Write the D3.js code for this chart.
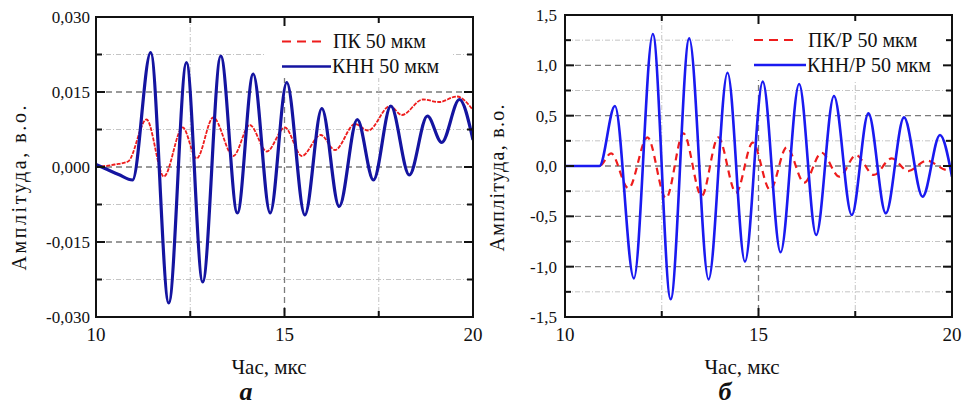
<!DOCTYPE html>
<html>
<head>
<meta charset="utf-8">
<script src="https://cdn.jsdelivr.net/npm/d3@7"></script>
<style>
  body { margin: 0; background: #fff; }
  svg text { font-family: 'Liberation Serif' !important; }
</style>
</head>
<body>
<svg id="chart" width="963" height="405"></svg>
<script>
// ---- data (time in мкс, amplitude in в.о.) ----
const timeTicks = [10, 15, 20];

const ampTicksA = [-0.030, -0.015, 0.000, 0.015, 0.030];
const ampTicksB = [-1.5, -1.0, -0.5, 0.0, 0.5, 1.0, 1.5];

// panel a
const pkA = [
  [10.0, 0.0], [10.5, 0.0005], [10.85, 0.0011], [11.34, 0.0095], [11.80, -0.0019],
  [12.30, 0.0079], [12.67, 0.0017], [13.11, 0.0099], [13.64, 0.0022], [14.08, 0.0084],
  [14.53, 0.0031], [15.01, 0.0079], [15.46, 0.0022], [15.96, 0.0064], [16.34, 0.0034],
  [16.87, 0.0086], [17.22, 0.0073], [17.80, 0.0122], [18.11, 0.0104], [18.67, 0.0135],
  [19.10, 0.0130], [19.57, 0.0141], [20.0, 0.0114]
];
const knnA = [
  [10.0, 0.0005], [10.3, -0.0005], [10.6, -0.0015], [10.97, -0.0026], [11.45, 0.0229],
  [11.93, -0.0272], [12.40, 0.0209], [12.83, -0.0230], [13.31, 0.0222], [13.75, -0.0092],
  [14.17, 0.0186], [14.62, -0.0092], [15.06, 0.0169], [15.54, -0.0096], [15.99, 0.0117],
  [16.45, -0.0079], [16.93, 0.0095], [17.36, -0.0026], [17.82, 0.0122], [18.31, -0.0016],
  [18.79, 0.0102], [19.17, 0.0049], [19.64, 0.0135], [20.0, 0.0054]
];

// panel б
const pkB = [
  [10.0, 0], [10.89, 0], [11.19, 0.126], [11.64, -0.222], [12.13, 0.285], [12.61, -0.321],
  [13.06, 0.325], [13.53, -0.298], [13.96, 0.285], [14.42, -0.265], [14.85, 0.232],
  [15.30, -0.238], [15.73, 0.186], [16.18, -0.166], [16.63, 0.132], [17.09, -0.106],
  [17.52, 0.109], [17.98, -0.089], [18.44, 0.076], [18.87, -0.050], [19.35, 0.053],
  [19.85, -0.040], [20.0, -0.045]
];
const knnB = [
  [10.0, 0], [10.89, 0], [11.29, 0.596], [11.78, -1.116], [12.27, 1.311], [12.73, -1.324],
  [13.21, 1.268], [13.71, -1.126], [14.20, 0.927], [14.65, -0.950], [15.11, 0.838],
  [15.57, -0.857], [16.05, 0.815], [16.49, -0.685], [16.95, 0.695], [17.41, -0.487],
  [17.84, 0.523], [18.29, -0.470], [18.76, 0.483], [19.24, -0.305], [19.69, 0.308],
  [20.0, -0.106]
];

const legendA = ["ПК 50 мкм", "КНН 50 мкм"];
const legendB = ["ПК/Р 50 мкм", "КНН/Р 50 мкм"];

const FONT = "'Liberation Serif'";
const svg = d3.select("#chart");

function addText(parent) {
  return parent.append("text").style("font-family", FONT, "important").attr("fill", "#111");
}

function drawPanel(o) {
  const g = svg.append("g");
  const x = d3.scaleLinear().domain([10, 20]).range([o.left, o.right]);
  const y = d3.scaleLinear().domain(o.yDomain).range([o.bottom, o.top]);

  const step = o.yStep;
  const yAll = d3.range(o.yDomain[0], o.yDomain[1] + step / 4, step / 2).map(v => +v.toFixed(6));
  const isMajor = v => Math.abs(Math.round(v / step) * step - v) < step / 100;
  const xAll = [12.5, 15, 17.5];
  const inner = yAll.filter(v => v > o.yDomain[0] && v < o.yDomain[1]);

  // grid
  const grid = g.append("g");
  inner.forEach(v => {
    grid.append("line")
      .attr("x1", o.left).attr("x2", o.right)
      .attr("y1", y(v)).attr("y2", y(v))
      .attr("stroke", isMajor(v) ? "#7a7a7a" : "#c4c4c4")
      .attr("stroke-width", isMajor(v) ? 1.3 : 1)
      .attr("stroke-dasharray", isMajor(v) ? "6,4" : "5,2,1,2");
  });
  xAll.forEach(t => {
    const maj = t === 15;
    grid.append("line")
      .attr("x1", x(t)).attr("x2", x(t))
      .attr("y1", o.top).attr("y2", o.bottom)
      .attr("stroke", maj ? "#7a7a7a" : "#c4c4c4")
      .attr("stroke-width", maj ? 1.3 : 1)
      .attr("stroke-dasharray", maj ? "6,4" : "5,2,1,2");
  });

  // legend background hides grid
  g.append("rect")
    .attr("x", o.leg.x0).attr("y", o.top)
    .attr("width", o.leg.x1 - o.leg.x0).attr("height", o.leg.y1 - o.top)
    .attr("fill", "#fff");

  // curves
  const clipId = "clip" + o.id;
  g.append("clipPath").attr("id", clipId).append("rect")
    .attr("x", o.left).attr("y", o.top)
    .attr("width", o.right - o.left).attr("height", o.bottom - o.top);

  const line = d3.line().x(d => x(d[0])).y(d => y(d[1])).curve(d3.curveMonotoneX);
  const curves = g.append("g").attr("clip-path", `url(#${clipId})`);
  curves.append("path").datum(o.pk).attr("d", line)
    .attr("fill", "none").attr("stroke", "#ee1c1c")
    .attr("stroke-width", o.pkWidth).attr("stroke-dasharray", o.pkDash);
  curves.append("path").datum(o.knn).attr("d", line)
    .attr("fill", "none").attr("stroke", o.blue)
    .attr("stroke-width", o.knnWidth).attr("stroke-linejoin", "round");

  // frame
  g.append("rect")
    .attr("x", o.left).attr("y", o.top)
    .attr("width", o.right - o.left).attr("height", o.bottom - o.top)
    .attr("fill", "none").attr("stroke", "#111").attr("stroke-width", 2);

  // ticks, inward on all sides
  const tk = g.append("g").attr("stroke", "#111").attr("stroke-width", 2);
  inner.forEach(v => {
    const len = isMajor(v) ? 9 : 6;
    tk.append("line").attr("x1", o.left).attr("x2", o.left + len).attr("y1", y(v)).attr("y2", y(v));
    tk.append("line").attr("x1", o.right).attr("x2", o.right - len).attr("y1", y(v)).attr("y2", y(v));
  });
  xAll.forEach(t => {
    const len = t === 15 ? 9 : 6;
    tk.append("line").attr("x1", x(t)).attr("x2", x(t)).attr("y1", o.bottom).attr("y2", o.bottom - len);
    tk.append("line").attr("x1", x(t)).attr("x2", x(t)).attr("y1", o.top).attr("y2", o.top + len);
  });

  // tick labels
  const yl = g.append("g");
  o.yTicks.forEach(v => {
    addText(yl).attr("x", o.left - o.labGap).attr("y", y(v)).attr("dy", "0.35em")
      .attr("text-anchor", "end").attr("font-size", 17)
      .text(o.fmt(v).replace(".", ",").replace("−", "-"));
  });
  const xl = g.append("g");
  timeTicks.forEach(t => {
    addText(xl).attr("x", x(t)).attr("y", 341)
      .attr("text-anchor", "middle").attr("font-size", 19)
      .text(t);
  });

  // axis titles
  addText(g)
    .attr("transform", `translate(${o.yLabX},${o.yLabY}) rotate(-90)`)
    .attr("text-anchor", "middle").attr("dy", "0.35em")
    .attr("font-size", 20)
    .attr("textLength", o.yLabLen).attr("lengthAdjust", "spacing")
    .text("Амплітуда, в.о.");
  addText(g)
    .attr("x", o.xLabX).attr("y", 374)
    .attr("text-anchor", "middle").attr("font-size", 21)
    .text("Час, мкс");
  addText(g)
    .attr("x", o.tagX).attr("y", 400)
    .attr("text-anchor", "middle").attr("font-size", 26)
    .attr("font-style", "italic").attr("font-weight", "bold")
    .text(o.tag);

  // legend
  const lg = g.append("g");
  const L = o.leg;
  lg.append("line").attr("x1", L.lx0).attr("x2", L.lx1).attr("y1", L.ly[0]).attr("y2", L.ly[0])
    .attr("stroke", "#ee1c1c").attr("stroke-width", 2).attr("stroke-dasharray", "9,6");
  lg.append("line").attr("x1", L.lx0).attr("x2", L.lx2).attr("y1", L.ly[1]).attr("y2", L.ly[1])
    .attr("stroke", o.blue).attr("stroke-width", 2.4);
  o.names.forEach((name, i) => {
    addText(lg).attr("x", L.tx[i]).attr("y", L.ly[i] + 6.5)
      .attr("font-size", 20)
      .text(name);
  });
}

drawPanel({
  id: "a", left: 96, right: 473, top: 17, bottom: 317,
  yDomain: [-0.03, 0.03], yStep: 0.015, yTicks: ampTicksA, fmt: d3.format(".3f"), labGap: 6,
  pk: pkA, knn: knnA, blue: "#1414a0", pkWidth: 1.8, pkDash: "4,1.2", knnWidth: 3.2,
  yLabX: 19, yLabY: 188, yLabLen: 165, xLabX: 269, tagX: 246, tag: "а",
  names: legendA,
  leg: { x0: 265, x1: 452, y1: 78, lx0: 282, lx1: 323, lx2: 331, ly: [41.5, 66.5], tx: [333, 332] }
});

drawPanel({
  id: "b", left: 565, right: 952, top: 15, bottom: 317,
  yDomain: [-1.5, 1.5], yStep: 0.5, yTicks: ampTicksB, fmt: d3.format(".1f"), labGap: 8,
  pk: pkB, knn: knnB, blue: "#1a1af0", pkWidth: 2.2, pkDash: "7,5", knnWidth: 2.6,
  yLabX: 497, yLabY: 178, yLabLen: 147, xLabX: 742, tagX: 725, tag: "б",
  names: legendB,
  leg: { x0: 735, x1: 950, y1: 80, lx0: 754, lx1: 798, lx2: 806, ly: [40, 65], tx: [808, 807] }
});
</script>
</body>
</html>
